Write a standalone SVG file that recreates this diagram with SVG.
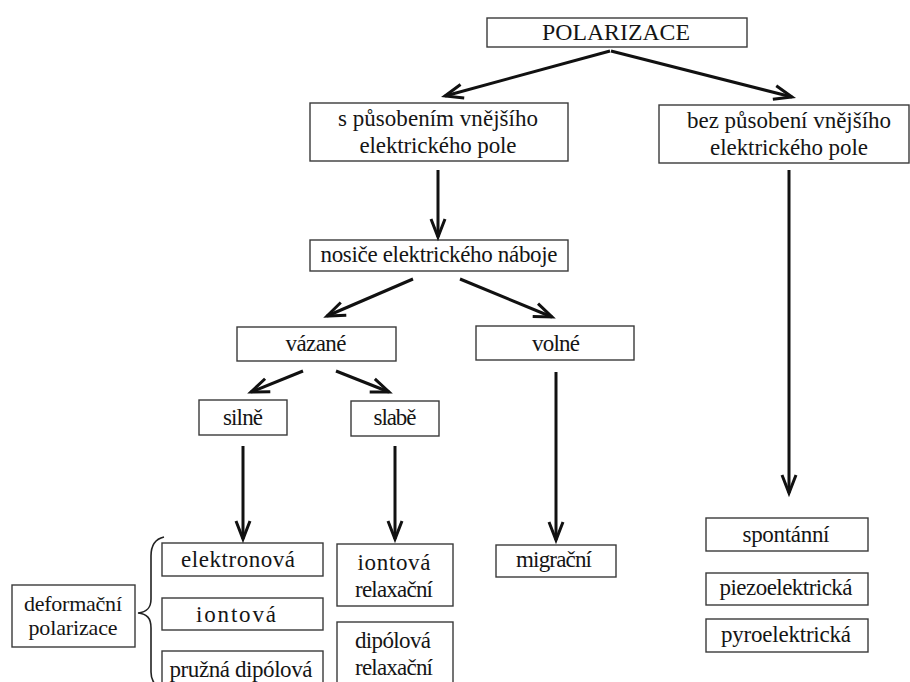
<svg xmlns="http://www.w3.org/2000/svg" width="910" height="682" viewBox="0 0 910 682">
<style>
rect.box{fill:#fff;stroke:#3a3a3a;stroke-width:1.4}
text{font-family:"Liberation Serif","Times New Roman",serif;font-size:23px;fill:#151515;text-anchor:middle}
.big{font-size:24px}
.sm{font-size:22px}
.conn line{stroke:#111;stroke-width:3;marker-end:url(#ah)}
.brace{fill:none;stroke:#222;stroke-width:1.6}
</style>
<defs>
<marker id="ah" markerUnits="userSpaceOnUse" markerWidth="22" markerHeight="18" refX="18" refY="8" orient="auto" overflow="visible">
<path d="M0,1 L18,8 L0,15" fill="none" stroke="#111" stroke-width="3" stroke-linejoin="miter"/>
</marker>
</defs>
<rect width="910" height="682" fill="#fff"/>
<g id="n-polarizace"><rect class="box" x="487" y="18" width="260" height="29"/><text class="big" x="616" y="40" textLength="148" lengthAdjust="spacingAndGlyphs">POLARIZACE</text></g>
<g id="n-s-pusobenim"><rect class="box" x="310" y="103" width="258" height="58"/><text x="438" y="126" textLength="200">s působením vnějšího</text><text x="438" y="153" textLength="157">elektrického pole</text></g>
<g id="n-bez-pusobeni"><rect class="box" x="659" y="105" width="250" height="58"/><text x="789" y="128" textLength="204">bez působení vnějšího</text><text x="789" y="155" textLength="158">elektrického pole</text></g>
<g id="n-nosice"><rect class="box" x="310" y="240" width="258" height="31"/><text x="439" y="262" textLength="237">nosiče elektrického náboje</text></g>
<g id="n-vazane"><rect class="box" x="237" y="327" width="159" height="34"/><text x="316" y="351" textLength="61">vázané</text></g>
<g id="n-volne"><rect class="box" x="476" y="326" width="158" height="34"/><text x="556" y="351" textLength="48">volné</text></g>
<g id="n-silne"><rect class="box" x="199" y="400" width="88" height="35"/><text x="243" y="425" textLength="40">silně</text></g>
<g id="n-slabe"><rect class="box" x="351" y="401" width="88" height="35"/><text x="395" y="425" textLength="43">slabě</text></g>
<g id="n-elektronova"><rect class="box" x="162" y="543" width="161" height="33"/><text x="238" y="567" textLength="114">elektronová</text></g>
<g id="n-iontova"><rect class="box" x="162" y="598" width="161" height="32"/><text x="236" y="622" textLength="80">iontová</text></g>
<g id="n-pruzna"><rect class="box" x="162" y="651" width="161" height="40"/><text x="241" y="677" textLength="143">pružná dipólová</text></g>
<g id="n-deformacni"><rect class="box" x="12" y="585" width="123" height="62"/><text class="sm" x="73" y="611" textLength="98">deformační</text><text class="sm" x="73" y="635" textLength="89">polarizace</text></g>
<g id="n-iontova-relax"><rect class="box" x="337" y="544" width="116" height="62"/><text x="394" y="570" textLength="73">iontová</text><text x="394" y="597" textLength="78">relaxační</text></g>
<g id="n-dipolova-relax"><rect class="box" x="337" y="622" width="116" height="70"/><text x="393" y="648" textLength="76">dipólová</text><text x="394" y="675" textLength="78">relaxační</text></g>
<g id="n-migracni"><rect class="box" x="496" y="545" width="120" height="32"/><text x="554" y="567" textLength="76">migrační</text></g>
<g id="n-spontanni"><rect class="box" x="706" y="518" width="162" height="33"/><text x="786" y="542" textLength="87">spontánní</text></g>
<g id="n-piezo"><rect class="box" x="706" y="573" width="162" height="32"/><text x="786" y="595" textLength="133">piezoelektrická</text></g>
<g id="n-pyro"><rect class="box" x="706" y="619" width="162" height="33"/><text x="786" y="642" textLength="130">pyroelektrická</text></g>
<path class="brace" d="M164,537 C155,539 151,545 151,556 L151,599 C151,608 147,612 138,613 C147,614 151,618 151,628 L151,672 C151,680 154,684 160,688"/>
<g class="conn">
<line x1="610" y1="51" x2="445" y2="96"/>
<line x1="611" y1="51" x2="792" y2="97"/>
<line x1="438" y1="170" x2="438" y2="237"/>
<line x1="789" y1="170" x2="789" y2="493"/>
<line x1="413" y1="279" x2="327" y2="316"/>
<line x1="460" y1="279" x2="552" y2="317"/>
<line x1="303" y1="371" x2="251" y2="392"/>
<line x1="336" y1="371" x2="389" y2="392"/>
<line x1="243" y1="446" x2="243" y2="539"/>
<line x1="395" y1="446" x2="395" y2="539"/>
<line x1="556" y1="372" x2="556" y2="540"/>
</g>
</svg>
